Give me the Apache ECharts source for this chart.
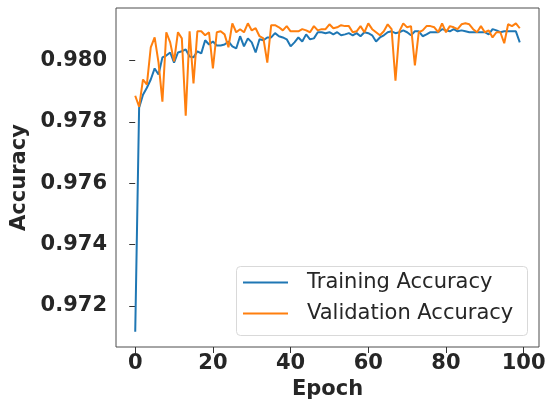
<!DOCTYPE html>
<html>
<head>
<meta charset="utf-8">
<script src="https://cdn.jsdelivr.net/npm/echarts@6/dist/echarts.min.js"></script>
<style>
html,body{margin:0;padding:0;background:#fff;}
#chart{width:556px;height:405px;}
</style>
</head>
<body>
<div id="chart"></div>
<script>
const epochs = Array.from({length: 100}, (_, i) => i);
const trainingAccuracy = [
0.97116,0.97846,0.97888,0.97911,0.97938,0.97974,0.97954,0.98010,0.98016,0.98026,
0.97993,0.98026,0.98030,0.98036,0.98013,0.98010,0.98030,0.98023,0.98066,0.98052,
0.98062,0.98049,0.98049,0.98052,0.98062,0.98046,0.98039,0.98079,0.98046,0.98072,
0.98059,0.98026,0.98069,0.98066,0.98075,0.98075,0.98089,0.98079,0.98075,0.98069,
0.98046,0.98059,0.98075,0.98062,0.98085,0.98069,0.98072,0.98092,0.98092,0.98089,
0.98092,0.98085,0.98092,0.98082,0.98085,0.98089,0.98082,0.98089,0.98079,0.98092,
0.98089,0.98082,0.98062,0.98075,0.98082,0.98092,0.98095,0.98089,0.98092,0.98098,
0.98092,0.98082,0.98095,0.98095,0.98079,0.98085,0.98092,0.98092,0.98092,0.98102,
0.98098,0.98095,0.98102,0.98095,0.98098,0.98095,0.98092,0.98092,0.98092,0.98092,
0.98092,0.98085,0.98102,0.98098,0.98092,0.98095,0.98095,0.98095,0.98095,0.98059
];
const validationAccuracy = [
0.97885,0.97849,0.97938,0.97921,0.98043,0.98075,0.97993,0.97866,0.98092,0.98059,
0.97997,0.98092,0.98072,0.97820,0.98095,0.97925,0.98095,0.98095,0.98082,0.98092,
0.97974,0.98092,0.98095,0.98085,0.98043,0.98121,0.98092,0.98102,0.98092,0.98121,
0.98098,0.98105,0.98079,0.98072,0.97993,0.98115,0.98115,0.98108,0.98098,0.98112,
0.98095,0.98095,0.98095,0.98102,0.98098,0.98092,0.98112,0.98098,0.98102,0.98102,
0.98118,0.98105,0.98108,0.98115,0.98112,0.98112,0.98092,0.98095,0.98112,0.98092,
0.98121,0.98102,0.98092,0.98082,0.98095,0.98118,0.98102,0.97934,0.98095,0.98121,
0.98108,0.98112,0.97984,0.98092,0.98098,0.98112,0.98112,0.98108,0.98092,0.98121,
0.98092,0.98112,0.98108,0.98102,0.98118,0.98121,0.98118,0.98102,0.98092,0.98112,
0.98092,0.98098,0.98075,0.98092,0.98092,0.98056,0.98118,0.98112,0.98121,0.98105
];
const xTicks = [0, 20, 40, 60, 80, 100];
const yTicks = [0.972, 0.974, 0.976, 0.978, 0.980];
const seriesNames = ['Training Accuracy', 'Validation Accuracy'];

const FONT = 'DejaVu Sans';
const TXT = '#262626';
const chart = echarts.init(document.getElementById('chart'), null, {renderer: 'canvas'});
chart.setOption({
  animation: false,
  backgroundColor: '#fff',
  color: ['#1f77b4', '#ff7f0e'],
  grid: {left: 116, right: 17, top: 8, bottom: 58, show: true, borderColor: '#4d4d4d', borderWidth: 1, backgroundColor: 'transparent'},
  graphic: [{
    type: 'rect', z: 50,
    shape: {x: 236.5, y: 266.5, width: 291, height: 69, r: 4},
    style: {fill: 'rgba(255,255,255,0.8)', stroke: '#d9d9d9', lineWidth: 1}
  }],
  legend: {
    z: 60,
    orient: 'vertical', left: 243, top: 272, padding: 0,
    itemWidth: 45, itemHeight: 2, itemGap: 10,
    icon: 'rect',
    data: seriesNames,
    textStyle: {fontFamily: FONT, fontSize: 21, color: TXT, lineHeight: 21, padding: [0, 0, 0, 14]}
  },
  xAxis: {
    type: 'value', min: -4.95, max: 103.95,
    name: 'Epoch', nameLocation: 'middle', nameGap: 30,
    nameTextStyle: {fontFamily: FONT, fontSize: 21, fontWeight: 'bold', color: TXT},
    axisLine: {show: false},
    axisTick: {show: true, length: 6, customValues: xTicks, lineStyle: {color: '#333', width: 1}},
    axisLabel: {customValues: xTicks, margin: 6, fontFamily: FONT, fontSize: 21, fontWeight: 'bold', color: TXT},
    splitLine: {show: false}
  },
  yAxis: {
    type: 'value', min: 0.97066, max: 0.98171,
    name: 'Accuracy', nameLocation: 'middle', nameGap: 83,
    nameTextStyle: {fontFamily: FONT, fontSize: 21, fontWeight: 'bold', color: TXT},
    axisLine: {show: false},
    axisTick: {show: true, length: 6, customValues: yTicks, lineStyle: {color: '#333', width: 1}},
    axisLabel: {customValues: yTicks, margin: 9, fontFamily: FONT, fontSize: 21, fontWeight: 'bold', color: TXT,
      formatter: v => v.toFixed(3)},
    splitLine: {show: false}
  },
  series: [
    {name: seriesNames[0], type: 'line', showSymbol: false, lineStyle: {width: 2}, data: epochs.map((e, i) => [e, trainingAccuracy[i]])},
    {name: seriesNames[1], type: 'line', showSymbol: false, lineStyle: {width: 2}, data: epochs.map((e, i) => [e, validationAccuracy[i]])}
  ]
});
</script>
</body>
</html>
